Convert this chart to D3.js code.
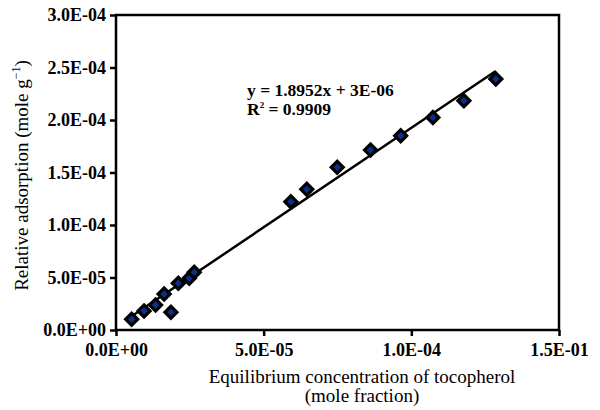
<!DOCTYPE html>
<html lang="en">
<head>
  <meta charset="UTF-8">
  <title>Relative adsorption</title>
  <script src="https://cdnjs.cloudflare.com/ajax/libs/d3/7.8.5/d3.min.js"></script>
  <style>
    body { margin: 0; background: #fff; }
    svg text { font-family: "Liberation Serif", Tinos, "Times New Roman", "DejaVu Serif", serif; fill: #000; }
  </style>
</head>
<body>
  <script>
    // equilibrium concentration (mole fraction)
    const xVals = [5.3e-6, 9.5e-6, 13.4e-6, 16.3e-6, 18.6e-6, 21.1e-6, 24.8e-6, 26.5e-6,
                   59.2e-6, 64.6e-6, 74.9e-6, 86.2e-6, 96.4e-6, 107.3e-6, 117.8e-6, 128.6e-6];
    // relative adsorption (mole g-1)
    const yVals = [1.02e-5, 1.81e-5, 2.38e-5, 3.43e-5, 1.69e-5, 4.45e-5, 4.92e-5, 5.5e-5,
                   12.22e-5, 13.4e-5, 15.5e-5, 17.14e-5, 18.5e-5, 20.24e-5, 21.83e-5, 23.9e-5];

    const xTicks = [0, 5e-5, 1e-4, 1.5e-4];
    const xTickLabels = ["0.0E+00", "5.0E-05", "1.0E-04", "1.5E-01"];
    const yTicks = [0, 5e-5, 1e-4, 1.5e-4, 2e-4, 2.5e-4, 3e-4];
    const yTickLabels = ["0.0E+00", "5.0E-05", "1.0E-04", "1.5E-04", "2.0E-04", "2.5E-04", "3.0E-04"];

    const slope = 1.8952, intercept = 3e-6;

    const width = 600, height = 410;
    const m = { left: 116, right: 559, top: 15, bottom: 330 };
    const serif = '"Liberation Serif", Tinos, "Times New Roman", "DejaVu Serif", serif';

    const svg = d3.select("body").append("svg")
      .attr("width", width)
      .attr("height", height)
      .attr("font-family", serif);

    const x = d3.scaleLinear().domain([0, 1.5e-4]).range([m.left, m.right]);
    const y = d3.scaleLinear().domain([0, 3e-4]).range([m.bottom, m.top]);

    // frame
    svg.append("rect")
      .attr("x", m.left).attr("y", m.top)
      .attr("width", m.right - m.left).attr("height", m.bottom - m.top)
      .attr("fill", "none").attr("stroke", "#000").attr("stroke-width", 2.5);

    // axes
    const xAxis = d3.axisBottom(x).tickValues(xTicks)
      .tickFormat((d, i) => xTickLabels[i]).tickSize(6).tickPadding(7);
    const gx = svg.append("g").attr("transform", `translate(0,${m.bottom})`).call(xAxis);

    const yAxis = d3.axisLeft(y).tickValues(yTicks)
      .tickFormat((d, i) => yTickLabels[i]).tickSize(6).tickPadding(4);
    const gy = svg.append("g").attr("transform", `translate(${m.left},0)`).call(yAxis);

    [gx, gy].forEach(g => {
      g.attr("font-family", serif).attr("font-size", 18);
      g.select(".domain").remove();
      g.selectAll(".tick line").attr("stroke", "#000").attr("stroke-width", 2.5);
      g.selectAll(".tick text").attr("font-weight", "bold");
    });

    // trend line over the data range
    const xr = d3.extent(xVals);
    svg.append("line")
      .attr("x1", x(xr[0])).attr("y1", y(slope * xr[0] + intercept))
      .attr("x2", x(xr[1])).attr("y2", y(slope * xr[1] + intercept))
      .attr("stroke", "#000").attr("stroke-width", 2.5);

    // diamond markers
    const diamond = d3.symbol().type(d3.symbolSquare).size(72);
    svg.append("g").selectAll("path")
      .data(xVals)
      .join("path")
      .attr("d", diamond)
      .attr("transform", (d, i) => `translate(${x(d)},${y(yVals[i])}) rotate(45)`)
      .attr("fill", "#0a2f86")
      .attr("stroke", "#000")
      .attr("stroke-width", 3.2);

    // equation
    svg.append("text").attr("x", 247).attr("y", 96)
      .attr("font-size", 17.5).attr("font-weight", "bold")
      .text(`y = ${slope}x + 3E-06`);
    const r2 = svg.append("text").attr("x", 247).attr("y", 115)
      .attr("font-size", 17.5).attr("font-weight", "bold");
    r2.append("tspan").text("R");
    r2.append("tspan").attr("font-size", 9).attr("dy", -7).text("2");
    r2.append("tspan").attr("dy", 7).text(" = 0.9909");

    // axis titles
    const titleX = 362;
    svg.append("text")
      .attr("x", titleX).attr("y", 383)
      .attr("text-anchor", "middle").attr("font-size", 19)
      .text("Equilibrium concentration of tocopherol");
    svg.append("text")
      .attr("x", titleX).attr("y", 402)
      .attr("text-anchor", "middle").attr("font-size", 19)
      .text("(mole fraction)");

    const yt = svg.append("text")
      .attr("transform", `translate(28,${(m.top + m.bottom) / 2 + 3}) rotate(-90)`)
      .attr("text-anchor", "middle").attr("font-size", 19);
    yt.append("tspan").text("Relative adsorption (mole g");
    yt.append("tspan").attr("font-size", 12).attr("dy", -8).text("\u22121");
    yt.append("tspan").attr("dy", 8).text(")");
  </script>
</body>
</html>
